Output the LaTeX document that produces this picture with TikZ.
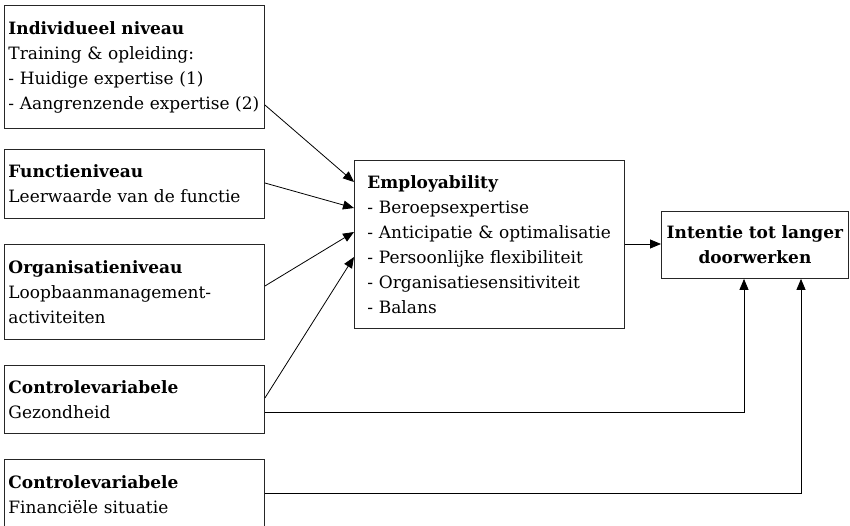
\documentclass[tikz,border=0pt]{standalone}
\usepackage{fontspec}
\setmainfont{DejaVu Serif}
\usepackage{tikz}
\usetikzlibrary{arrows.meta}
\usetikzlibrary{positioning}
\tikzset{
factor/.style = { rectangle, draw = black!85, line width = 0.9pt, anchor = north west, align = left, inner xsep = 4pt, inner ysep = 0pt, text width = 252pt, font = \fontsize{17}{25}\selectfont },
outcome/.style = { rectangle, draw = black!85, line width = 0.9pt, anchor = north west, inner ysep = 0pt, font = \fontsize{17}{25}\selectfont },
link/.style = { draw = black, line width = 0.8pt, -{Triangle[length = 11pt, width = 9pt]} },
}

\begin{document}
\begin{tikzpicture}[x = 1pt, y = -1pt]
    \useasboundingbox (0, 0) rectangle (850, 526);
    \clip (0, 0) rectangle (850, 526);
    % linker kolom
    \node[factor, minimum height = 123pt] (indiv) at (4, 5) {\textbf{Individueel niveau}\\Training \& opleiding:\\- Huidige expertise (1)\\- Aangrenzende expertise (2)};
    \node[factor, minimum height = 69pt] (functie) at (4, 149) {\textbf{Functieniveau}\\Leerwaarde van de functie};
    \node[factor, minimum height = 95pt] (organisatie) at (4, 244) {\textbf{Organisatieniveau}\\Loopbaanmanagement-\\activiteiten};
    \node[factor, minimum height = 68pt] (gezond) at (4, 365) {\textbf{Controlevariabele}\\Gezondheid};
    \node[factor, minimum height = 70pt] (financieel) at (4, 459) {\textbf{Controlevariabele}\\Financiële situatie};
    % midden en rechts
    \node[outcome, align = left, inner xsep = 13pt, text width = 244pt, minimum height = 168pt] (employ) at (354, 160) {\textbf{Employability}\\- Beroepsexpertise\\- Anticipatie \& optimalisatie\\- Persoonlijke flexibiliteit\\- Organisatiesensitiviteit\\- Balans};
    \node[outcome, align = center, inner xsep = 4pt, text width = 179pt, minimum height = 67pt] (intentie) at (661, 211) {\textbf{Intentie tot langer}\\\textbf{doorwerken}};
    % pijlen
    \draw[link] (indiv.east |- 0,105) -- (employ.west |- 0,182);
    \draw[link] (functie.east |- 0,183) -- (employ.west |- 0,208);
    \draw[link] (organisatie.east |- 0,286) -- (employ.west |- 0,232);
    \draw[link] (gezond.east |- 0,398) -- (employ.west |- 0,257);
    \draw[link] (employ.east |- 0,244) -- (intentie.west |- 0,244);
    \draw[link] (gezond.east |- 0,412) -| (intentie.south -| 744,0);
    \draw[link] (financieel.east |- 0,493) -| (intentie.south -| 801,0);
\end{tikzpicture}
\end{document}
